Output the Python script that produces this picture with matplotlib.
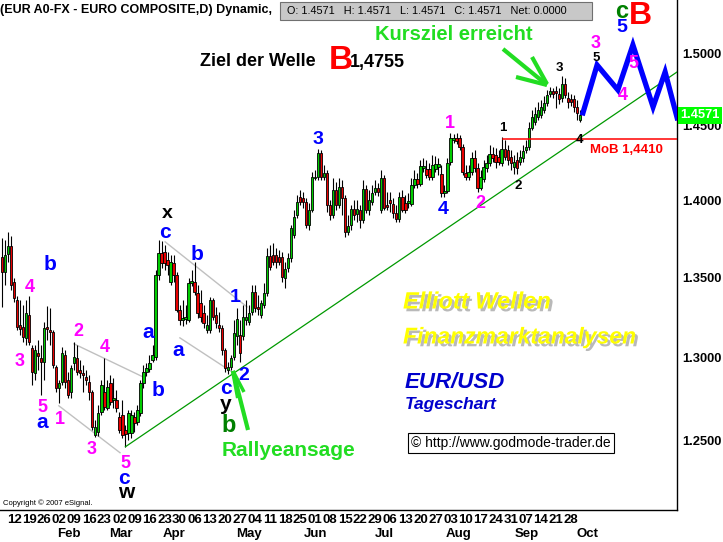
import matplotlib
matplotlib.use("Agg")
import matplotlib.pyplot as plt
from matplotlib import patheffects as pe
from matplotlib.lines import Line2D
from matplotlib.patches import Rectangle
from matplotlib.transforms import blended_transform_factory
from matplotlib.ticker import FixedLocator, NullLocator

# ---------------- data (daily OHLC, EUR composite) ----------------
O = [1.3631, 1.3535, 1.3650, 1.3702, 1.3471, 1.3358, 1.3201, 1.3188, 1.3120, 1.3264,
     1.3058, 1.2905, 1.3028, 1.2997, 1.2972, 1.3188, 1.3170, 1.3157, 1.2942, 1.2814,
     1.2851, 1.3015, 1.2863, 1.2790, 1.2966, 1.2997, 1.2924, 1.2905, 1.2881, 1.2851,
     1.2790, 1.2533, 1.2551, 1.2670, 1.2790, 1.2694, 1.2845, 1.2742, 1.2742, 1.2640,
     1.2652, 1.2563, 1.2545, 1.2545, 1.2640, 1.2611, 1.2664, 1.2845, 1.2911, 1.2930,
     1.2985, 1.3003, 1.3516, 1.3657, 1.3663, 1.3612, 1.3471, 1.3592, 1.3516, 1.3295,
     1.3232, 1.3238, 1.3232, 1.3465, 1.3471, 1.3402, 1.3339, 1.3276, 1.3170, 1.3170,
     1.3358, 1.3264, 1.3201, 1.3182, 1.3046, 1.2924, 1.2942, 1.3003, 1.3133, 1.3139,
     1.3133, 1.3232, 1.3220, 1.3282, 1.3408, 1.3313, 1.3264, 1.3326, 1.3402, 1.3637,
     1.3644, 1.3644, 1.3631, 1.3631, 1.3496, 1.3560, 1.3624, 1.3773, 1.3904, 1.4022,
     1.4015, 1.3989, 1.3838, 1.3936, 1.4148, 1.4155, 1.4316, 1.4155, 1.4182, 1.3969,
     1.3904, 1.4068, 1.3969, 1.4088, 1.4015, 1.3793, 1.3838, 1.3943, 1.3910, 1.3936,
     1.3871, 1.4075, 1.3936, 1.3989, 1.4055, 1.4082, 1.3936, 1.4148, 1.3969, 1.4002,
     1.3976, 1.3917, 1.3878, 1.4022, 1.3982, 1.3982, 1.3976, 1.4102, 1.4142, 1.4109,
     1.4215, 1.4209, 1.4209, 1.4155, 1.4209, 1.4222, 1.4175, 1.4048, 1.4062, 1.4256,
     1.4404, 1.4418, 1.4418, 1.4357, 1.4182, 1.4155, 1.4188, 1.4283, 1.4215, 1.4082,
     1.4142, 1.4215, 1.4249, 1.4310, 1.4303, 1.4289, 1.4249, 1.4343, 1.4336, 1.4289,
     1.4222, 1.4269, 1.4256, 1.4283, 1.4336, 1.4357, 1.4486, 1.4527, 1.4561, 1.4575,
     1.4609, 1.4658, 1.4720, 1.4741, 1.4741, 1.4720, 1.4692, 1.4789, 1.4692, 1.4685,
     1.4685, 1.4630, 1.4541]
H = [1.3754, 1.3741, 1.3793, 1.3767, 1.3496, 1.3382, 1.3358, 1.3326, 1.3358, 1.3382,
     1.3077, 1.3077, 1.3108, 1.3077, 1.3220, 1.3320, 1.3307, 1.3170, 1.2954, 1.2863,
     1.3064, 1.3046, 1.2911, 1.2954, 1.3095, 1.3077, 1.2985, 1.2954, 1.2924, 1.2893,
     1.2802, 1.2622, 1.2712, 1.2863, 1.2997, 1.2863, 1.2893, 1.2875, 1.2802, 1.2670,
     1.2742, 1.2593, 1.2682, 1.2682, 1.2670, 1.2712, 1.2863, 1.2954, 1.2966, 1.3015,
     1.3077, 1.3548, 1.3741, 1.3734, 1.3709, 1.3663, 1.3644, 1.3644, 1.3535, 1.3326,
     1.3358, 1.3326, 1.3496, 1.3548, 1.3599, 1.3453, 1.3421, 1.3326, 1.3264, 1.3376,
     1.3370, 1.3313, 1.3282, 1.3201, 1.3058, 1.2972, 1.3015, 1.3232, 1.3307, 1.3232,
     1.3326, 1.3358, 1.3326, 1.3453, 1.3453, 1.3389, 1.3358, 1.3465, 1.3689, 1.3709,
     1.3721, 1.3689, 1.3676, 1.3663, 1.3599, 1.3657, 1.3838, 1.3936, 1.4035, 1.4068,
     1.4055, 1.4015, 1.3982, 1.4188, 1.4202, 1.4343, 1.4336, 1.4236, 1.4202, 1.4002,
     1.4148, 1.4122, 1.4148, 1.4135, 1.4035, 1.3904, 1.3969, 1.4002, 1.4002, 1.3969,
     1.4135, 1.4102, 1.4068, 1.4102, 1.4135, 1.4115, 1.4202, 1.4168, 1.4055, 1.4055,
     1.4015, 1.3969, 1.4055, 1.4068, 1.4035, 1.4048, 1.4148, 1.4202, 1.4182, 1.4269,
     1.4283, 1.4269, 1.4249, 1.4303, 1.4296, 1.4283, 1.4236, 1.4102, 1.4283, 1.4452,
     1.4445, 1.4452, 1.4438, 1.4377, 1.4236, 1.4236, 1.4323, 1.4336, 1.4249, 1.4202,
     1.4269, 1.4303, 1.4370, 1.4357, 1.4350, 1.4336, 1.4425, 1.4404, 1.4370, 1.4336,
     1.4303, 1.4323, 1.4336, 1.4370, 1.4404, 1.4527, 1.4609, 1.4630, 1.4665, 1.4678,
     1.4706, 1.4748, 1.4769, 1.4762, 1.4776, 1.4762, 1.4845, 1.4831, 1.4734, 1.4720,
     1.4713, 1.4678, 1.4609]
L = [1.3313, 1.3453, 1.3599, 1.3421, 1.3344, 1.3170, 1.3139, 1.3095, 1.3077, 1.3077,
     1.2833, 1.2863, 1.2924, 1.2772, 1.2863, 1.3108, 1.3077, 1.2936, 1.2790, 1.2724,
     1.2833, 1.2814, 1.2754, 1.2754, 1.2924, 1.2893, 1.2875, 1.2790, 1.2833, 1.2742,
     1.2563, 1.2522, 1.2527, 1.2652, 1.2682, 1.2682, 1.2712, 1.2694, 1.2670, 1.2545,
     1.2516, 1.2463, 1.2504, 1.2516, 1.2551, 1.2593, 1.2646, 1.2814, 1.2887, 1.2911,
     1.2972, 1.2985, 1.3484, 1.3560, 1.3548, 1.3516, 1.3453, 1.3471, 1.3282, 1.3201,
     1.3195, 1.3207, 1.3220, 1.3446, 1.3389, 1.3245, 1.3220, 1.3182, 1.3151, 1.3151,
     1.3232, 1.3182, 1.3157, 1.3015, 1.2911, 1.2899, 1.2924, 1.2985, 1.3077, 1.2972,
     1.3108, 1.3201, 1.3201, 1.3264, 1.3282, 1.3264, 1.3245, 1.3307, 1.3382, 1.3548,
     1.3580, 1.3560, 1.3580, 1.3471, 1.3433, 1.3535, 1.3599, 1.3754, 1.3884, 1.3969,
     1.3950, 1.3819, 1.3806, 1.3923, 1.4135, 1.4135, 1.4135, 1.4135, 1.3923, 1.3871,
     1.3884, 1.3936, 1.3950, 1.3904, 1.3760, 1.3773, 1.3806, 1.3871, 1.3858, 1.3819,
     1.3851, 1.3917, 1.3904, 1.3969, 1.4035, 1.4028, 1.3917, 1.3936, 1.3936, 1.3923,
     1.3884, 1.3858, 1.3858, 1.3923, 1.3917, 1.3950, 1.3963, 1.4082, 1.4082, 1.4095,
     1.4188, 1.4148, 1.4135, 1.4135, 1.4188, 1.4168, 1.4022, 1.4022, 1.4048, 1.4236,
     1.4384, 1.4377, 1.4336, 1.4168, 1.4135, 1.4135, 1.4168, 1.4188, 1.4055, 1.4068,
     1.4122, 1.4188, 1.4229, 1.4256, 1.4215, 1.4236, 1.4229, 1.4269, 1.4236, 1.4202,
     1.4175, 1.4175, 1.4236, 1.4256, 1.4316, 1.4336, 1.4472, 1.4506, 1.4541, 1.4555,
     1.4589, 1.4637, 1.4699, 1.4692, 1.4623, 1.4651, 1.4665, 1.4692, 1.4623, 1.4637,
     1.4596, 1.4541, 1.4527]
C = [1.3535, 1.3644, 1.3702, 1.3453, 1.3370, 1.3188, 1.3176, 1.3126, 1.3276, 1.3095,
     1.2911, 1.3046, 1.3009, 1.2972, 1.3182, 1.3176, 1.3157, 1.2954, 1.2814, 1.2845,
     1.3028, 1.2851, 1.2772, 1.2936, 1.3003, 1.2911, 1.2905, 1.2893, 1.2863, 1.2790,
     1.2581, 1.2581, 1.2664, 1.2833, 1.2700, 1.2820, 1.2730, 1.2754, 1.2694, 1.2563,
     1.2533, 1.2539, 1.2664, 1.2652, 1.2605, 1.2682, 1.2845, 1.2911, 1.2936, 1.2966,
     1.3015, 1.3516, 1.3657, 1.3592, 1.3592, 1.3580, 1.3599, 1.3516, 1.3295, 1.3232,
     1.3245, 1.3251, 1.3465, 1.3478, 1.3408, 1.3276, 1.3251, 1.3213, 1.3201, 1.3358,
     1.3251, 1.3213, 1.3182, 1.3046, 1.2936, 1.2942, 1.2997, 1.3151, 1.3238, 1.3028,
     1.3251, 1.3251, 1.3276, 1.3408, 1.3307, 1.3301, 1.3339, 1.3402, 1.3637, 1.3567,
     1.3599, 1.3599, 1.3599, 1.3503, 1.3554, 1.3624, 1.3819, 1.3891, 1.3989, 1.3989,
     1.3989, 1.3838, 1.3936, 1.4155, 1.4155, 1.4316, 1.4155, 1.4182, 1.3969, 1.3904,
     1.4068, 1.3969, 1.4088, 1.4015, 1.3793, 1.3832, 1.3943, 1.3904, 1.3943, 1.3871,
     1.4075, 1.3936, 1.4002, 1.4048, 1.4082, 1.4055, 1.4148, 1.3950, 1.3956, 1.3982,
     1.3917, 1.3878, 1.4022, 1.3936, 1.3936, 1.3995, 1.4102, 1.4142, 1.4109, 1.4229,
     1.4229, 1.4168, 1.4155, 1.4236, 1.4242, 1.4242, 1.4048, 1.4062, 1.4249, 1.4418,
     1.4418, 1.4397, 1.4357, 1.4188, 1.4155, 1.4188, 1.4283, 1.4215, 1.4082, 1.4155,
     1.4222, 1.4249, 1.4310, 1.4283, 1.4256, 1.4256, 1.4343, 1.4289, 1.4269, 1.4249,
     1.4256, 1.4215, 1.4289, 1.4330, 1.4357, 1.4486, 1.4561, 1.4582, 1.4609, 1.4630,
     1.4658, 1.4713, 1.4741, 1.4720, 1.4727, 1.4685, 1.4789, 1.4713, 1.4665, 1.4665,
     1.4630, 1.4589, 1.4571]

week_labels = ["12", "19", "26", "02", "09", "16", "23", "02", "09", "16", "23", "30",
               "06", "13", "20", "27", "04", "11", "18", "25", "01", "08", "15", "22",
               "29", "06", "13", "20", "27", "03", "10", "17", "24", "31", "07", "14",
               "21", "28"]
month_labels = ["Feb", "Mar", "Apr", "May", "Jun", "Jul", "Aug", "Sep", "Oct"]
y_tick_values = [1.25, 1.30, 1.35, 1.40, 1.45, 1.50]

# forecast path (day index, price) and helper lines
forecast_x = [193.0, 197.7, 204.6, 209.6, 216.3, 220.3, 224.3]
forecast_p = [1.4589, 1.4922, 1.4748, 1.5064, 1.4630, 1.4873, 1.4555]
trend_x = [41.0, 224.25]
trend_p = [1.2463, 1.4873]
mob_level = 1.4410
mob_start = 166.4
channel_lines = [([18.9, 39.2], [1.2706, 1.2428]),
                 ([23.9, 46.8], [1.3083, 1.2881]),
                 ([54.2, 81.4], [1.3728, 1.3313]),
                 ([59.1, 77.4], [1.3120, 1.2899])]

# ---------------- layout ----------------
W, HH = 723, 542
fig = plt.figure(figsize=(W / 100, HH / 100), dpi=100)
fig.patch.set_facecolor("white")
ax = fig.add_axes([0, 1 - 510 / HH, 677 / W, 510 / HH])
ax.set_facecolor("white")

NARROW = ["Liberation Sans Narrow", "Liberation Sans", "DejaVu Sans"]
ARIAL = ["Liberation Sans", "DejaVu Sans"]

n = len(C)
xs = list(range(n))
GREEN, RED = "#00cc00", "#e80000"

for i in xs:
    ax.vlines(i, L[i], H[i], color="black", lw=0.8, zorder=2)
for i in xs:
    lo, hi = min(O[i], C[i]), max(O[i], C[i])
    col = GREEN if C[i] >= O[i] else RED
    ax.bar(i, hi - lo, bottom=lo, width=0.78, color=col, edgecolor="black",
           linewidth=0.6, zorder=3)

ax.set_yscale("log")
ax.set_xlim(-0.664, 224.25)
ax.set_ylim(1.20967, 1.53869)

for cx, cp in channel_lines:
    ax.plot(cx, cp, color="#c0c0c0", lw=1, zorder=1)
ax.plot(trend_x, trend_p, color="#009900", lw=0.9, zorder=4)
ax.plot([mob_start, 224.25], [mob_level, mob_level], color="#ff0000", lw=1.1, zorder=4)
ax.plot(forecast_x, forecast_p, color="#0000ff", lw=3.8, zorder=5,
        solid_joinstyle="miter", clip_on=True)

for s in ["top", "left"]:
    ax.spines[s].set_visible(False)
for s in ["right", "bottom"]:
    ax.spines[s].set_color("black")
    ax.spines[s].set_linewidth(1.0)

ax.yaxis.tick_right()
ax.yaxis.set_major_locator(FixedLocator(y_tick_values))
ax.yaxis.set_minor_locator(NullLocator())
ax.set_yticklabels([f"{v:.4f}" for v in y_tick_values])
ax.tick_params(axis="y", which="both", length=0, pad=3.5)
for t in ax.get_yticklabels():
    t.set_fontfamily(NARROW)
    t.set_fontweight("bold")
    t.set_fontsize(9.3)

week_pos = [4 + 5 * k for k in range(len(week_labels))]
month_pos = [22.3, 39.5, 57.1, 82.1, 104.3, 127.2, 151.8, 174.4, 194.4]
ax.set_xticks(week_pos)
ax.set_xticklabels(week_labels)
ax.set_xticks(month_pos, minor=True)
ax.set_xticklabels(month_labels, minor=True)
ax.tick_params(axis="x", which="major", length=0, pad=3)
ax.tick_params(axis="x", which="minor", length=0, pad=13)
for t in ax.get_xticklabels() + ax.get_xticklabels(minor=True):
    t.set_fontfamily(NARROW)
    t.set_fontweight("bold")
    t.set_fontsize(9.5)

trans = blended_transform_factory(ax.transAxes, ax.transData)
ax.text(1.005, C[-1], f"{C[-1]:.4f}", transform=trans, ha="left", va="center",
        color="white", fontsize=9.3, fontweight="bold", family=NARROW, zorder=10,
        bbox=dict(facecolor="#00ff00", edgecolor="none", pad=1.5), clip_on=False)


# ---------------- annotations ----------------
def fx(x):
    return x / W


def fy(y):
    return 1 - y / HH


def T(x, y, s, color, size, fam=ARIAL, ha="center", style="normal", weight="bold", **kw):
    return fig.text(fx(x), fy(y), s, color=color, fontsize=size, fontweight=weight,
                    family=fam, ha=ha, va="center", style=style, **kw)


def LN(pts, color, lw):
    fig.add_artist(Line2D([fx(p[0]) for p in pts], [fy(p[1]) for p in pts],
                          transform=fig.transFigure, color=color, lw=lw,
                          solid_capstyle="butt"))


# header
T(0, 10, "(EUR A0-FX - EURO COMPOSITE,D) Dynamic,", "black", 9, fam=NARROW, ha="left")
fig.add_artist(Rectangle((fx(280), fy(20)), fx(592) - fx(280), fy(2) - fy(20),
                         transform=fig.transFigure, facecolor="#c8c8c8",
                         edgecolor="#707070", lw=0.8))
T(287, 11, f"O: {C[-1]:.4f}   H: {C[-1]:.4f}   L: {C[-1]:.4f}   C: {C[-1]:.4f}   Net: 0.0000",
  "black", 7.8, fam=NARROW, ha="left", weight="normal")

PINK, BLUE, DGREEN, LIME = "#ff00ff", "#0000ff", "#008000", "#22dd22"

T(622, 11, "c", DGREEN, 17)
T(622, 28, "5", BLUE, 14)
T(640, 16, "B", "#ff0000", 23)

T(200, 62, "Ziel der Welle", "black", 13, ha="left")
T(341, 60, "B", "#ff0000", 24)
T(350, 63, "1,4755", "black", 13, ha="left")

T(375, 35, "Kursziel erreicht", LIME, 14.5, ha="left")
LN([(503, 49), (547, 85)], LIME, 3)
LN([(532, 57), (547, 84)], LIME, 3)
LN([(516, 77), (547, 85)], LIME, 3)

T(222, 450, "Rallyeansage", LIME, 15, ha="left")
LN([(233, 371), (248, 430)], LIME, 3)
LN([(233, 371), (238, 398)], LIME, 3)
LN([(233, 371), (244, 392)], LIME, 2.5)

pink = [(30, 288, "4"), (20, 362, "3"), (42, 408, "5"), (60, 420, "1"), (78, 332, "2"),
        (105, 348, "4"), (92, 450, "3"), (125, 463, "5"), (450, 123, "1"), (480, 204, "2"),
        (596, 44, "3"), (633, 64, "5"), (623, 95, "4")]
for x, y, s in pink:
    T(x, y, s, PINK, 13)
blue_d = [(235, 298, "1"), (244, 376, "2"), (318, 139, "3"), (443, 209, "4")]
for x, y, s in blue_d:
    T(x, y, s, BLUE, 14)
blue_l = [(50, 264, "b"), (42, 423, "a"), (148, 333, "a"), (158, 390, "b"), (165, 232, "c"),
          (197, 255, "b"), (178, 351, "a"), (226, 388, "c"), (124, 478, "c")]
for x, y, s in blue_l:
    T(x, y, s, BLUE, 15)
black_l = [(167, 213, "x", 14), (226, 405, "y", 15), (126, 492, "w", 15)]
for x, y, s, z in black_l:
    T(x, y, s, "black", z)
T(229, 425, "b", DGREEN, 17)
black_s = [(503, 128, "1"), (518, 186, "2"), (559, 68, "3"), (580, 140, "4"), (596, 58, "5")]
for x, y, s in black_s:
    T(x, y, s, "black", 9.5)

T(590, 150, "MoB 1,4410", "#ff0000", 9.5, ha="left")

shadow = [pe.withSimplePatchShadow(offset=(2, -2), shadow_rgbFace="#808080", alpha=0.55)]
T(403, 302, "Elliott Wellen", "#ffff00", 17, ha="left", style="italic", path_effects=shadow)
T(403, 337, "Finanzmarktanalysen", "#ffff00", 16.5, ha="left", style="italic", path_effects=shadow)
T(405, 382, "EUR/USD", "#0000cc", 16, ha="left", style="italic")
T(405, 404, "Tageschart", "#0000cc", 12.5, ha="left", style="italic")

T(411, 443, "\u00a9 http://www.godmode-trader.de", "black", 10, ha="left", weight="normal",
  bbox=dict(facecolor="white", edgecolor="black", lw=0.8, pad=2.5))

T(3, 503, "Copyright \u00a9 2007 eSignal.", "black", 5.5, ha="left", weight="normal")

fig.savefig("out.png", dpi=100)
